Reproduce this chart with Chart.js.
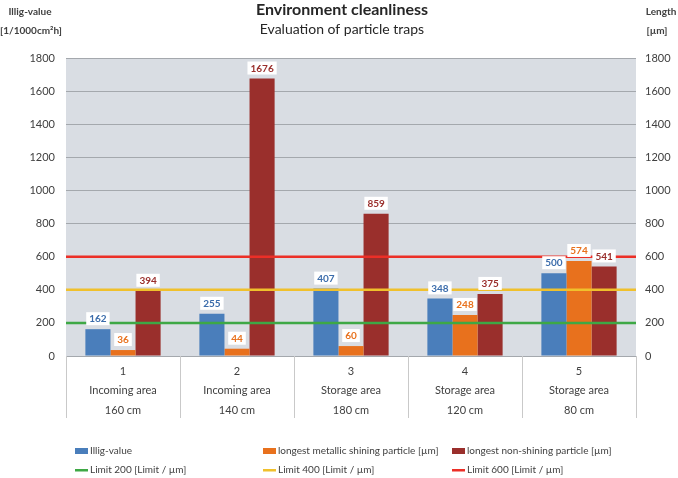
<!DOCTYPE html>
<html>
<head>
<meta charset="utf-8">
<script src="https://cdn.jsdelivr.net/npm/chart.js@4/dist/chart.umd.min.js"></script>
<style>
  html, body { margin: 0; padding: 0; background: #fff; }
  #wrap { width: 678px; height: 478px; position: relative; }
</style>
</head>
<body>
<div id="wrap"><canvas id="chart" width="678" height="478"></canvas></div>
<script>
// -------------------- Data --------------------
const categories = [
    ['1', 'Incoming area', '160 cm'],
    ['2', 'Incoming area', '140 cm'],
    ['3', 'Storage area', '180 cm'],
    ['4', 'Storage area', '120 cm'],
    ['5', 'Storage area', '80 cm']
];
const illigValues = [162, 255, 407, 348, 500];
const metallicValues = [36, 44, 60, 248, 574];
const nonShiningValues = [394, 1676, 859, 375, 541];
const limitValues = [200, 400, 600];
const limitLabels = ['Limit 200 [Limit / µm]', 'Limit 400 [Limit / µm]', 'Limit 600 [Limit / µm]'];
const yTicks = [0, 200, 400, 600, 800, 1000, 1200, 1400, 1600, 1800];

const FONT = 'Lato, "Open Sans", sans-serif';
const TEXT = '#404040';
const limitColors = ['#3ea845', '#f0c02c', '#ec2f27'];

// -------------------- Plugins --------------------
const plotBackground = {
    id: 'plotBackground',
    beforeDraw(chart) {
        const { ctx, chartArea: a } = chart;
        ctx.save();
        ctx.fillStyle = '#d9dde3';
        ctx.fillRect(a.left, a.top, a.right - a.left, a.bottom - a.top);
        ctx.restore();
    }
};

// table lines under the plot
const categoryTable = {
    id: 'categoryTable',
    afterDraw(chart) {
        const { ctx, chartArea: a, scales } = chart;
        const x = scales.x;
        const step = x.getPixelForValue(1) - x.getPixelForValue(0);
        ctx.save();
        ctx.strokeStyle = '#c9c9c9';
        ctx.lineWidth = 1;
        ctx.beginPath();
        for (let i = 0; i <= categories.length; i++) {
            const px = Math.round(x.getPixelForValue(0) - step / 2 + i * step) + 0.5;
            ctx.moveTo(px, a.bottom);
            ctx.lineTo(px, x.bottom);
        }
        ctx.stroke();
        ctx.restore();
    }
};

// limit lines across the whole plot, then boxed value labels on top
const limitsAndLabels = {
    id: 'limitsAndLabels',
    afterDatasetsDraw(chart) {
        const { ctx, chartArea: a, scales } = chart;
        ctx.save();
        limitValues.forEach((v, k) => {
            const py = scales.y.getPixelForValue(v);
            ctx.strokeStyle = limitColors[k];
            ctx.lineWidth = 2.5;
            ctx.beginPath();
            ctx.moveTo(a.left, py);
            ctx.lineTo(a.right, py);
            ctx.stroke();
        });

        ctx.font = 'bold 10px ' + FONT;
        ctx.textAlign = 'center';
        ctx.textBaseline = 'middle';
        chart.data.datasets.forEach((ds, i) => {
            chart.getDatasetMeta(i).data.forEach((bar, j) => {
                const txt = String(ds.data[j]);
                const w = ctx.measureText(txt).width + 6;
                const h = 13;
                const cy = bar.y - 4 - h / 2;
                ctx.fillStyle = '#ffffff';
                ctx.fillRect(bar.x - w / 2, cy - h / 2, w, h);
                ctx.fillStyle = ds.labelColor;
                ctx.fillText(txt, bar.x, cy + 0.5);
            });
        });
        ctx.restore();
    }
};

// titles, axis captions and legend
const annotations = {
    id: 'annotations',
    afterDraw(chart) {
        const { ctx } = chart;
        ctx.save();
        ctx.fillStyle = '#262626';
        ctx.textAlign = 'center';
        ctx.textBaseline = 'middle';
        ctx.font = 'bold 16px ' + FONT;
        ctx.fillText('Environment cleanliness', 342, 10);
        ctx.font = '14px ' + FONT;
        ctx.fillText('Evaluation of particle traps', 342, 29);

        ctx.fillStyle = TEXT;
        ctx.font = 'bold 10px ' + FONT;
        ctx.fillText('Illig-value', 30, 12);
        ctx.fillText('[1/1000cm²h]', 31, 31);
        ctx.fillText('Length', 661, 12);
        ctx.fillText('[µm]', 657, 31);

        // legend
        const colX = [75, 263, 452];
        ctx.font = '10px ' + FONT;
        ctx.textAlign = 'left';
        chart.data.datasets.forEach((ds, i) => {
            const x = colX[i], y = 451;
            ctx.fillStyle = ds.backgroundColor;
            ctx.fillRect(x, y - 3, 13, 6);
            ctx.fillStyle = TEXT;
            ctx.fillText(ds.label, x + 15, y);
        });
        limitLabels.forEach((lbl, k) => {
            const x = colX[k], y = 470;
            ctx.fillStyle = limitColors[k];
            ctx.fillRect(x, y - 1, 13, 2.5);
            ctx.fillStyle = TEXT;
            ctx.fillText(lbl, x + 15, y);
        });
        ctx.restore();
    }
};

// -------------------- Chart --------------------
new Chart(document.getElementById('chart'), {
    type: 'bar',
    data: {
        labels: categories,
        datasets: [
            { label: 'Illig-value', data: illigValues, backgroundColor: '#4a7ebb', labelColor: '#3b6cab' },
            { label: 'longest metallic shining particle [µm]', data: metallicValues, backgroundColor: '#e8711d', labelColor: '#e8711d' },
            { label: 'longest non-shining particle [µm]', data: nonShiningValues, backgroundColor: '#9a2f2c', labelColor: '#9a2f2c' }
        ]
    },
    options: {
        responsive: false,
        animation: false,
        layout: { padding: { left: 6, right: 6, top: 58, bottom: 60 } },
        datasets: { bar: { categoryPercentage: 0.66, barPercentage: 1.0 } },
        plugins: { legend: { display: false }, title: { display: false }, tooltip: { enabled: false } },
        scales: {
            x: {
                type: 'category',
                grid: { display: false },
                border: { display: false },
                ticks: {
                    color: TEXT, font: { family: FONT, size: 11, lineHeight: 1.75 },
                    padding: -2, maxRotation: 0, autoSkip: false
                },
                afterFit(s) { s.height = 62; }
            },
            y: {
                position: 'left', min: 0, max: 1800,
                afterBuildTicks(s) { s.ticks = yTicks.map(v => ({ value: v })); },
                grid: { color: '#a4a8ad', lineWidth: 1, drawTicks: false },
                border: { display: false },
                ticks: { color: TEXT, font: { family: FONT, size: 11 }, padding: 11, callback: v => String(v) },
                afterFit(s) { s.width = 60; }
            },
            y2: {
                position: 'right', min: 0, max: 1800,
                afterBuildTicks(s) { s.ticks = yTicks.map(v => ({ value: v })); },
                grid: { drawOnChartArea: false, drawTicks: false },
                border: { display: false },
                ticks: { color: TEXT, font: { family: FONT, size: 11 }, padding: 9, callback: v => String(v) },
                afterFit(s) { s.width = 36; }
            }
        }
    },
    plugins: [plotBackground, categoryTable, limitsAndLabels, annotations]
});
</script>
</body>
</html>
